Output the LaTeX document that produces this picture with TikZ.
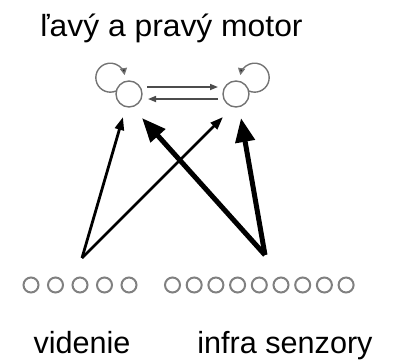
\documentclass[tikz,border=0pt]{standalone}
\usepackage{fontspec}
\setmainfont{Liberation Sans}
\usetikzlibrary{arrows.meta}
\tikzset{
  lbl/.style={font=\fontsize{30.6}{34}\selectfont, inner sep=0pt, anchor=base},
  motor/.style={circle, draw=black!55, line width=1.4pt, minimum size=26pt, inner sep=0pt},
  sens/.style={circle, draw=black!50, line width=2pt, minimum size=15pt, inner sep=0pt},
  loopline/.style={draw=black!55, line width=1.4pt, -{Triangle[length=7pt,width=7pt,fill=black!85]}},
  link/.style={draw=black!70, line width=1.6pt, -{Triangle[length=8pt,width=6pt]}},
  thin/.style={draw=black, line width=2.8pt, -{Triangle[length=13pt,width=9pt]}},
  thick/.style={draw=black, line width=5pt, -{Triangle[length=24pt,width=19pt]}}
}
\begin{document}
\begin{tikzpicture}[x=1pt,y=-1pt]
\useasboundingbox (0,0) rectangle (393,359);
% labels
\node[lbl] (title) at (171.5,36) {\scalebox{1.04}[1]{ľavý a pravý motor}};
\node[lbl] (vtext) at (82,353) {videnie};
\node[lbl] (itext) at (285,353) {infra senzory};
% motors
\node[motor] (ml) at (129,94) {};
\node[motor] (mr) at (236,94) {};
% self loops
\draw[loopline] (116,91) arc[start angle=67, end angle=350, radius=14.5];
\draw[loopline] (249,91) arc[start angle=113, end angle=-170, radius=14.5];
% mutual links
\coordinate (t1) at (147,87); \coordinate (t2) at (218,87);
\coordinate (b1) at (218,99); \coordinate (b2) at (148,99);
\draw[link] (t1) -- (t2);
\draw[link] (b1) -- (b2);
% sensors
\foreach \i in {0,...,4}{
  \node[sens] (v\i) at ({31+24.5*\i},285) {};
}
\foreach \i in {0,...,8}{
  \node[sens] (r\i) at ({172.5+21.7*\i},285) {};
}
% sources and tips
\coordinate (vis) at (82,258);
\coordinate (ir) at (265,255);
\coordinate (vl) at (123,117);
\coordinate (vr) at (223,117);
\coordinate (il) at (142,118);
\coordinate (irr) at (241,118);
\draw[thin] (vis) -- (vl);
\draw[thin] (vis) -- (vr);
\draw[thick] (ir) -- (il);
\draw[thick] (ir) -- (irr);
\end{tikzpicture}
\end{document}
